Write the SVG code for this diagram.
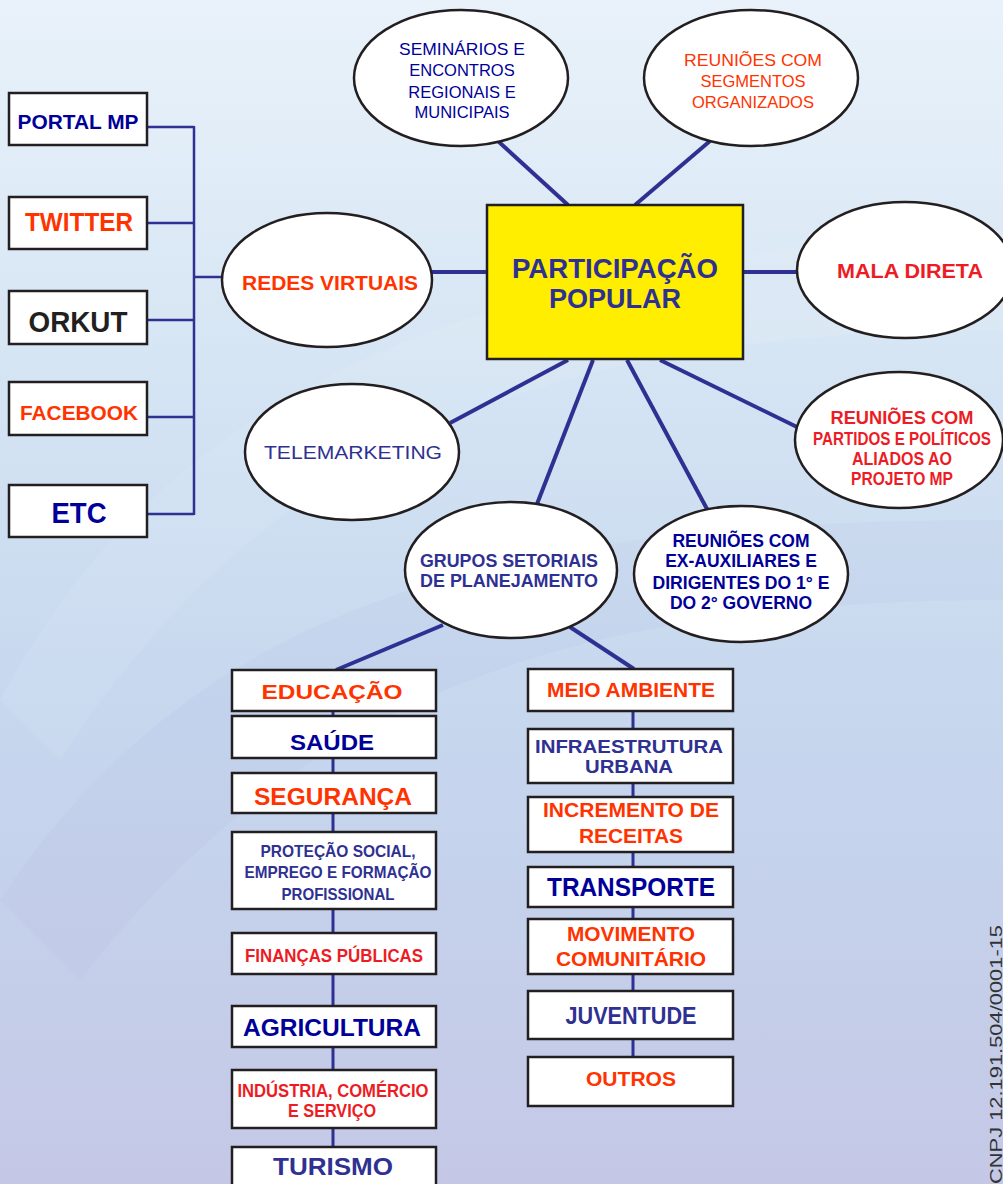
<svg xmlns="http://www.w3.org/2000/svg" width="1003" height="1184" viewBox="0 0 1003 1184">
<defs>
<linearGradient id="bg" x1="0" y1="0" x2="0" y2="1">
<stop offset="0" stop-color="#e9f2fa"/>
<stop offset="0.35" stop-color="#d3e3f3"/>
<stop offset="0.6" stop-color="#c6d7ee"/>
<stop offset="1" stop-color="#c4c8e6"/>
</linearGradient>
<style>
.n{fill:#fff;stroke:#231f20;stroke-width:2.5}
.c{stroke:#2e3192;fill:none}
.sp{stroke-width:4}
.bus{stroke-width:2.5}
.col{stroke-width:3}
text{font-family:"Liberation Sans",Arial,sans-serif;text-anchor:middle}
.b{font-weight:bold}
.db{fill:#000099}
.pb{fill:#2e3192}
.or{fill:#ff3300}
.rd{fill:#ed1c24}
.bk{fill:#231f20}
</style>
</defs>
<rect width="1003" height="1184" fill="url(#bg)"/>
<path d="M0 700 C 150 420 420 260 1003 230 L1003 330 C 500 330 250 470 60 760 Z" fill="#ffffff" opacity="0.08"/>
<path d="M0 900 C 200 600 500 520 1003 520 L1003 600 C 560 600 300 700 80 980 Z" fill="#aab6da" opacity="0.12"/>

<g id="connectors">
<line class="c bus" x1="147" y1="127" x2="194" y2="127"/>
<line class="c bus" x1="147" y1="223" x2="194" y2="223"/>
<line class="c bus" x1="147" y1="320" x2="194" y2="320"/>
<line class="c bus" x1="147" y1="417" x2="194" y2="417"/>
<line class="c bus" x1="147" y1="514" x2="194" y2="514"/>
<line class="c bus" x1="194" y1="126" x2="194" y2="515"/>
<line class="c bus" x1="194" y1="277" x2="223" y2="277"/>
<line class="c sp" x1="431" y1="272" x2="487" y2="272"/>
<line class="c sp" x1="743" y1="272" x2="797" y2="272"/>
<line class="c sp" x1="499" y1="142" x2="568" y2="205"/>
<line class="c sp" x1="710" y1="141" x2="635" y2="205"/>
<line class="c sp" x1="568" y1="360" x2="450" y2="423"/>
<line class="c sp" x1="593" y1="360" x2="537" y2="504"/>
<line class="c sp" x1="627" y1="360" x2="707" y2="509"/>
<line class="c sp" x1="660" y1="360" x2="797" y2="427"/>
<line class="c sp" x1="443" y1="625" x2="336" y2="670"/>
<line class="c sp" x1="570" y1="627" x2="634" y2="669"/>
<line class="c col" x1="333" y1="711" x2="333" y2="1147"/>
<line class="c col" x1="633" y1="711" x2="633" y2="1057"/>
</g>

<g id="portal-mp"><rect class="n" x="9" y="93" width="138" height="52"/><text class="b db" x="78" y="129" font-size="20.5" textLength="121" lengthAdjust="spacingAndGlyphs">PORTAL MP</text></g>
<g id="twitter"><rect class="n" x="9" y="197" width="138" height="52"/><text class="b or" x="79" y="231" font-size="25" textLength="108" lengthAdjust="spacingAndGlyphs">TWITTER</text></g>
<g id="orkut"><rect class="n" x="9" y="291" width="138" height="53"/><text class="b bk" x="78" y="332" font-size="29" textLength="99" lengthAdjust="spacingAndGlyphs">ORKUT</text></g>
<g id="facebook"><rect class="n" x="9" y="382" width="138" height="53"/><text class="b or" x="79" y="420" font-size="21" textLength="118" lengthAdjust="spacingAndGlyphs">FACEBOOK</text></g>
<g id="etc"><rect class="n" x="9" y="485" width="138" height="52"/><text class="b db" x="79" y="523" font-size="29" textLength="55" lengthAdjust="spacingAndGlyphs">ETC</text></g>

<g id="redes-virtuais"><ellipse class="n" cx="327" cy="280" rx="105" ry="67"/><text class="b or" x="330" y="290" font-size="21" textLength="176" lengthAdjust="spacingAndGlyphs">REDES VIRTUAIS</text></g>

<g id="participacao-popular"><rect x="487" y="205" width="256" height="154" fill="#ffee00" stroke="#231f20" stroke-width="2.5"/>
<text class="b pb" x="615" y="278" font-size="27" textLength="206" lengthAdjust="spacingAndGlyphs">PARTICIPAÇÃO</text>
<text class="b pb" x="615" y="308" font-size="27">POPULAR</text></g>

<g id="seminarios"><ellipse class="n" cx="461" cy="78" rx="107" ry="68"/>
<text class="db" font-size="16.5" x="462" y="55" textLength="126" lengthAdjust="spacingAndGlyphs">SEMINÁRIOS E</text>
<text class="db" font-size="16.5" x="462" y="76">ENCONTROS</text>
<text class="db" font-size="16.5" x="462" y="98">REGIONAIS E</text>
<text class="db" font-size="16.5" x="462" y="118">MUNICIPAIS</text></g>

<g id="reunioes-segmentos"><ellipse class="n" cx="751" cy="78" rx="107" ry="68"/>
<text class="or" font-size="16.5" x="753" y="66" textLength="138" lengthAdjust="spacingAndGlyphs">REUNIÕES COM</text>
<text class="or" font-size="16.5" x="753" y="87">SEGMENTOS</text>
<text class="or" font-size="16.5" x="753" y="108">ORGANIZADOS</text></g>

<g id="mala-direta"><ellipse class="n" cx="905" cy="270" rx="108" ry="68"/><text class="b rd" x="910" y="278" font-size="20.5" textLength="146" lengthAdjust="spacingAndGlyphs">MALA DIRETA</text></g>

<g id="reunioes-partidos"><ellipse class="n" cx="899" cy="440" rx="104" ry="68"/>
<text class="b rd" font-size="18" x="902" y="424" textLength="143" lengthAdjust="spacingAndGlyphs">REUNIÕES COM</text>
<text class="b rd" font-size="18" x="902" y="445" textLength="178" lengthAdjust="spacingAndGlyphs">PARTIDOS E POLÍTICOS</text>
<text class="b rd" font-size="18" x="902" y="465" textLength="100" lengthAdjust="spacingAndGlyphs">ALIADOS AO</text>
<text class="b rd" font-size="18" x="902" y="485" textLength="102" lengthAdjust="spacingAndGlyphs">PROJETO MP</text></g>

<g id="telemarketing"><ellipse class="n" cx="352" cy="452" rx="107" ry="68"/><text class="pb" x="353" y="459" font-size="18.5" textLength="178" lengthAdjust="spacingAndGlyphs">TELEMARKETING</text></g>

<g id="grupos-setoriais"><ellipse class="n" cx="511" cy="570" rx="106" ry="68"/>
<text class="b pb" font-size="17.5" x="509" y="567" textLength="178" lengthAdjust="spacingAndGlyphs">GRUPOS SETORIAIS</text>
<text class="b pb" font-size="17.5" x="509" y="587" textLength="178" lengthAdjust="spacingAndGlyphs">DE PLANEJAMENTO</text></g>

<g id="reunioes-ex-auxiliares"><ellipse class="n" cx="741" cy="574" rx="107" ry="68"/>
<text class="b db" font-size="17.5" x="741" y="547">REUNIÕES COM</text>
<text class="b db" font-size="17.5" x="741" y="567">EX-AUXILIARES E</text>
<text class="b db" font-size="17.5" x="741" y="589" textLength="177" lengthAdjust="spacingAndGlyphs">DIRIGENTES DO 1° E</text>
<text class="b db" font-size="17.5" x="741" y="609">DO 2° GOVERNO</text></g>

<g id="educacao"><rect class="n" x="232" y="670" width="204" height="41"/><text class="b or" x="332" y="699" font-size="20" textLength="141" lengthAdjust="spacingAndGlyphs">EDUCAÇÃO</text></g>
<g id="saude"><rect class="n" x="232" y="716" width="204" height="42"/><text class="b db" x="332" y="750" font-size="22" textLength="84" lengthAdjust="spacingAndGlyphs">SAÚDE</text></g>
<g id="seguranca"><rect class="n" x="232" y="773" width="204" height="40"/><text class="b or" x="333" y="805" font-size="23" textLength="158" lengthAdjust="spacingAndGlyphs">SEGURANÇA</text></g>
<g id="protecao-social"><rect class="n" x="232" y="832" width="204" height="77"/>
<text class="b pb" font-size="16.5" x="338" y="857" textLength="155" lengthAdjust="spacingAndGlyphs">PROTEÇÃO SOCIAL,</text>
<text class="b pb" font-size="16.5" x="338" y="878" textLength="187" lengthAdjust="spacingAndGlyphs">EMPREGO E FORMAÇÃO</text>
<text class="b pb" font-size="16.5" x="338" y="900" textLength="113" lengthAdjust="spacingAndGlyphs">PROFISSIONAL</text></g>
<g id="financas-publicas"><rect class="n" x="232" y="933" width="204" height="41"/><text class="b rd" x="334" y="962" font-size="18" textLength="178" lengthAdjust="spacingAndGlyphs">FINANÇAS PÚBLICAS</text></g>
<g id="agricultura"><rect class="n" x="232" y="1006" width="204" height="41"/><text class="b db" x="332" y="1036" font-size="23.5" textLength="178" lengthAdjust="spacingAndGlyphs">AGRICULTURA</text></g>
<g id="industria"><rect class="n" x="232" y="1070" width="204" height="58"/>
<text class="b rd" font-size="18" x="333" y="1097" textLength="191" lengthAdjust="spacingAndGlyphs">INDÚSTRIA, COMÉRCIO</text>
<text class="b rd" font-size="18" x="332" y="1117" textLength="88" lengthAdjust="spacingAndGlyphs">E SERVIÇO</text></g>
<g id="turismo"><rect class="n" x="232" y="1147" width="204" height="50"/><text class="b pb" x="333" y="1175" font-size="23" textLength="120" lengthAdjust="spacingAndGlyphs">TURISMO</text></g>

<g id="meio-ambiente"><rect class="n" x="528" y="669" width="205" height="42"/><text class="b or" x="631" y="697" font-size="19.5" textLength="168" lengthAdjust="spacingAndGlyphs">MEIO AMBIENTE</text></g>
<g id="infraestrutura"><rect class="n" x="528" y="729" width="205" height="54"/>
<text class="b pb" font-size="17.5" x="629" y="753" textLength="188" lengthAdjust="spacingAndGlyphs">INFRAESTRUTURA</text>
<text class="b pb" font-size="17.5" x="629" y="773" textLength="88" lengthAdjust="spacingAndGlyphs">URBANA</text></g>
<g id="incremento-receitas"><rect class="n" x="528" y="797" width="205" height="55"/>
<text class="b or" font-size="20" x="631" y="817" textLength="176" lengthAdjust="spacingAndGlyphs">INCREMENTO DE</text>
<text class="b or" font-size="20" x="631" y="843" textLength="104" lengthAdjust="spacingAndGlyphs">RECEITAS</text></g>
<g id="transporte"><rect class="n" x="528" y="867" width="205" height="40"/><text class="b db" x="631" y="896" font-size="25" textLength="168" lengthAdjust="spacingAndGlyphs">TRANSPORTE</text></g>
<g id="movimento-comunitario"><rect class="n" x="528" y="919" width="205" height="55"/>
<text class="b or" font-size="20" x="631" y="941" textLength="128" lengthAdjust="spacingAndGlyphs">MOVIMENTO</text>
<text class="b or" font-size="20" x="631" y="966" textLength="150" lengthAdjust="spacingAndGlyphs">COMUNITÁRIO</text></g>
<g id="juventude"><rect class="n" x="528" y="991" width="205" height="48"/><text class="b pb" x="631" y="1024" font-size="23" textLength="131" lengthAdjust="spacingAndGlyphs">JUVENTUDE</text></g>
<g id="outros"><rect class="n" x="528" y="1057" width="205" height="49"/><text class="b or" x="631" y="1086" font-size="21" textLength="90" lengthAdjust="spacingAndGlyphs">OUTROS</text></g>

<text transform="translate(1002,925) rotate(-90)" x="0" y="0" style="text-anchor:end" font-size="16" fill="#333333" textLength="259" lengthAdjust="spacingAndGlyphs">CNPJ 12.191.504/0001-15</text>
</svg>
